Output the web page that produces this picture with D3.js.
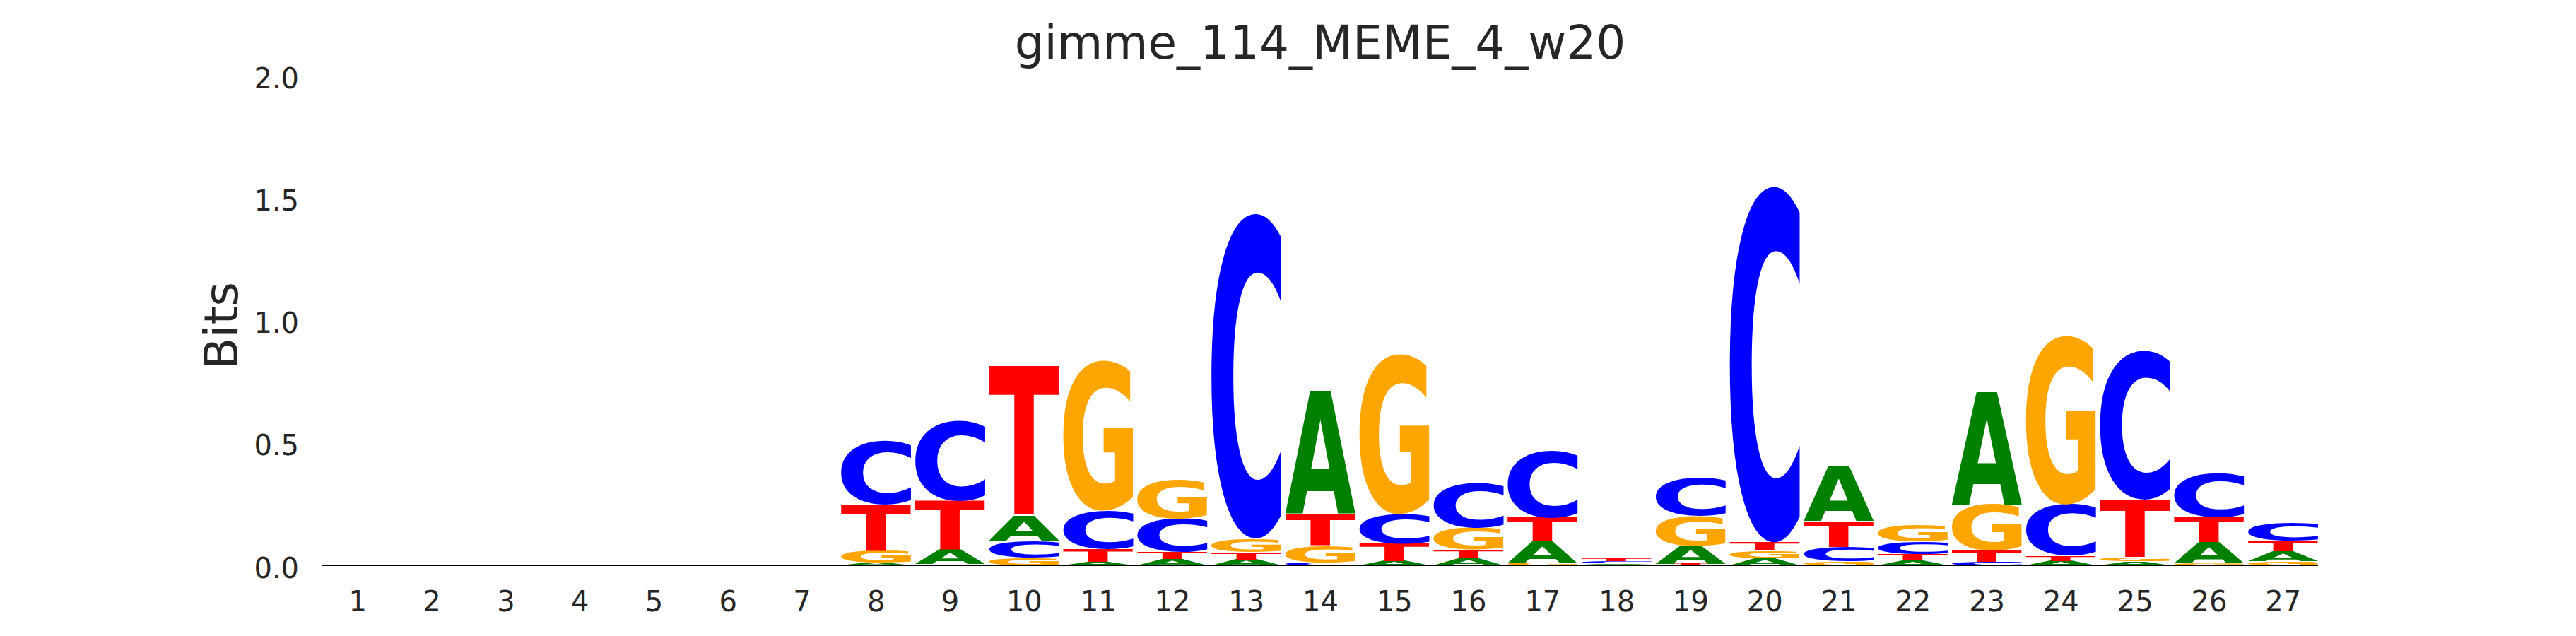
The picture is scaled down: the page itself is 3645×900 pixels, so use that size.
<!DOCTYPE html>
<html>
<head>
<meta charset="utf-8">
<script src="https://cdn.jsdelivr.net/npm/d3@7"></script>
<style>
  html, body { margin: 0; padding: 0; background: #ffffff; }
  svg { display: block; }
</style>
</head>
<body>
<svg id="chart" width="3645" height="900"></svg>
<script>
// ---- data (information content in bits, per position) ----
const positions = [1,2,3,4,5,6,7,8,9,10,11,12,13,14,15,16,17,18,19,20,21,22,23,24,25,26,27];
const bitsA = [0,0,0,0,0,0,0, 0.010, 0.058, 0.103, 0.015, 0.025, 0.024, 0.500, 0.017, 0.030, 0.090, 0.005, 0.075, 0.028, 0.225, 0.019, 0.460, 0.018, 0.016, 0.086, 0.040];
const bitsC = [0,0,0,0,0,0,0, 0.260, 0.330, 0.072, 0.157, 0.136, 1.330, 0.010, 0.120, 0.185, 0.275, 0.009, 0.155, 1.457, 0.058, 0.050, 0.014, 0.210, 0.610, 0.180, 0.075];
const bitsG = [0,0,0,0,0,0,0, 0.050, 0.005, 0.030, 0.615, 0.159, 0.056, 0.070, 0.655, 0.089, 0.010, 0.004, 0.120, 0.031, 0.016, 0.070, 0.190, 0.690, 0.017, 0.009, 0.017];
const bitsT = [0,0,0,0,0,0,0, 0.190, 0.200, 0.610, 0.051, 0.029, 0.029, 0.130, 0.072, 0.034, 0.095, 0.010, 0.006, 0.034, 0.107, 0.027, 0.045, 0.020, 0.235, 0.100, 0.042];
const yTicks = [0.0, 0.5, 1.0, 1.5, 2.0];
const titleText = "gimme_114_MEME_4_w20";
const yLabel = "Bits";

const letters = ["A", "C", "G", "T"];
const seriesByLetter = { A: bitsA, C: bitsC, G: bitsG, T: bitsT };
const colors = { A: "#008000", C: "#0000ff", G: "#ffa500", T: "#ff0000" };

// ---- layout ----
const svg = d3.select("#chart");
const textColor = "#262626";
const letterWidth = 0.95;
const x = d3.scaleLinear().domain([1 - letterWidth / 2, 27 + letterWidth / 2]).range([456, 3280]);
const y = d3.scaleLinear().domain([0, 2]).range([800, 107]);

svg.append("rect").attr("width", 3645).attr("height", 900).attr("fill", "#ffffff");

// glyph ink metrics
const ctx = document.createElement("canvas").getContext("2d");
const FS = 200;
const fontFam = '"DejaVu Sans", "Liberation Sans", sans-serif';
ctx.font = `bold ${FS}px ${fontFam}`;
const ink = {};
letters.forEach(ch => {
  const m = ctx.measureText(ch);
  ink[ch] = {
    l: -m.actualBoundingBoxLeft,
    r: m.actualBoundingBoxRight,
    t: -m.actualBoundingBoxAscent,
    b: m.actualBoundingBoxDescent
  };
});

// build stacked rows
const rows = [];
positions.forEach((p, i) => {
  const col = letters.map(ch => ({ ch, v: seriesByLetter[ch][i] }))
    .filter(d => d.v > 0)
    .sort((a, b) => a.v - b.v);
  let cum = 0;
  col.forEach(d => {
    rows.push({ pos: p, ch: d.ch, y0: cum, y1: cum + d.v });
    cum += d.v;
  });
});

const gLetters = svg.append("g");
gLetters.selectAll("text.letter")
  .data(rows)
  .join("text")
  .attr("class", "letter")
  .attr("x", 0).attr("y", 0)
  .attr("font-family", fontFam)
  .attr("font-weight", "bold")
  .attr("font-size", FS)
  .attr("fill", d => colors[d.ch])
  .attr("transform", d => {
    const m = ink[d.ch];
    const x0 = x(d.pos - letterWidth / 2);
    const w = x(d.pos + letterWidth / 2) - x0;
    const yTop = y(d.y1);
    const h = y(d.y0) - yTop;
    const sx = w / (m.r - m.l);
    const sy = h / (m.b - m.t);
    return `translate(${x0},${yTop}) scale(${sx},${sy}) translate(${-m.l},${-m.t})`;
  })
  .text(d => d.ch);

// baseline
svg.append("line")
  .attr("x1", x.range()[0]).attr("x2", x.range()[1])
  .attr("y1", y(0)).attr("y2", y(0))
  .attr("stroke", "#000000").attr("stroke-width", 2);

// x tick labels
const xAxis = d3.axisBottom(x).tickValues(positions).tickFormat(d3.format("d")).tickSize(0).tickPadding(0);
const gx = svg.append("g").attr("transform", `translate(0,${y(0)})`).call(xAxis);
gx.select(".domain").remove();
gx.selectAll("text")
  .attr("font-family", '"DejaVu Sans", sans-serif')
  .attr("font-size", 40)
  .attr("fill", textColor)
  .attr("dy", null)
  .attr("y", 65);

// y tick labels
const yAxis = d3.axisLeft(y).tickValues(yTicks).tickFormat(d3.format(".1f")).tickSize(0).tickPadding(0);
const gy = svg.append("g").attr("transform", `translate(423,0)`).call(yAxis);
gy.select(".domain").remove();
gy.selectAll("text")
  .attr("font-family", '"DejaVu Sans", sans-serif')
  .attr("font-size", 40)
  .attr("fill", textColor)
  .attr("x", 0)
  .attr("dy", null)
  .attr("y", 17);

// y label
svg.append("text")
  .attr("transform", "translate(336,461) rotate(-90)")
  .attr("text-anchor", "middle")
  .attr("font-family", '"DejaVu Sans", sans-serif')
  .attr("font-size", 66)
  .attr("fill", textColor)
  .text(yLabel);

// title
svg.append("text")
  .attr("x", (x.range()[0] + x.range()[1]) / 2)
  .attr("y", 83)
  .attr("text-anchor", "middle")
  .attr("font-family", '"DejaVu Sans", sans-serif')
  .attr("font-size", 66)
  .attr("fill", textColor)
  .text(titleText);
</script>
</body>
</html>
